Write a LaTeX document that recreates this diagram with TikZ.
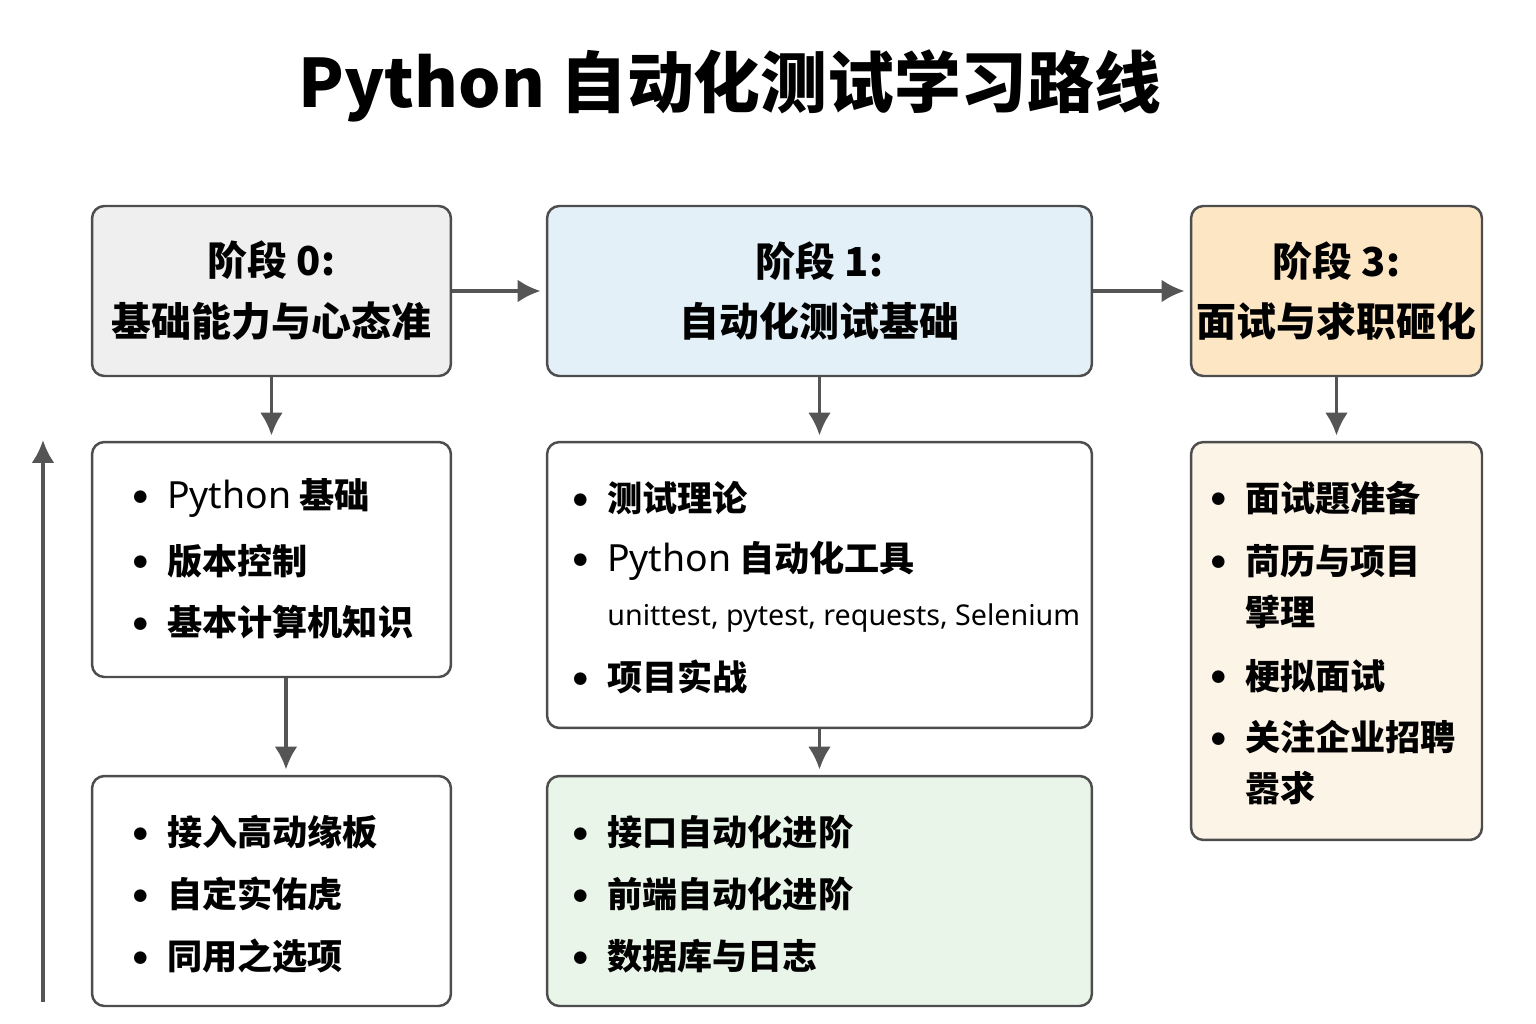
\documentclass[tikz,border=0pt]{standalone}
\usepackage{fontspec}
\setmainfont{Noto Sans CJK SC}
\newfontfamily\latinfont{Noto Sans}
\usepackage{xcolor}
\usepackage{tikz}
\usetikzlibrary{arrows.meta,positioning,calc}
\definecolor{roadmapInk}{HTML}{4D4D4D}
\definecolor{roadmapArrow}{HTML}{555555}
\definecolor{roadmapGray}{HTML}{EFEFEF}
\definecolor{roadmapBlue}{HTML}{E3F0F8}
\definecolor{roadmapAmber}{HTML}{FCE6C4}
\definecolor{roadmapCream}{HTML}{FDF4E8}
\definecolor{roadmapGreen}{HTML}{EAF5E9}
\tikzset{
  stagebox/.style={
    rectangle,
    rounded corners=7pt,
    draw=roadmapInk,
    line width=1.4pt,
    inner sep=0pt,
    align=center,
    font=\fontsize{22.7}{34.6}\selectfont\bfseries
  },
  listbox/.style={
    rectangle,
    rounded corners=7pt,
    draw=roadmapInk,
    fill=white,
    line width=1.4pt,
    inner sep=0pt
  },
  entry/.style={
    anchor=west,
    inner sep=0pt,
    font=\fontsize{20}{24}\selectfont
  },
  subentry/.style={
    anchor=west,
    inner sep=0pt,
    font=\fontsize{16.3}{18}\selectfont\latinfont
  },
  arrow/.style={
    -{Latex[length=13pt,width=13pt]},
    line width=2pt,
    draw=roadmapArrow
  }
}
\newcommand{\bul}{\makebox[19.3pt][l]{\raisebox{3.6pt}{\fontsize{8}{8}\selectfont ●}}}
\newcommand{\py}{{\latinfont\fontsize{21.3}{24}\selectfont Python}}

\begin{document}
\begin{tikzpicture}[x=0.02cm,y=-0.02cm]
  \useasboundingbox (0,0) rectangle (1536,1024);
  \node[font=\fontsize{38}{44}\selectfont\bfseries] (title) at (730,86) {Python 自动化测试学习路线};

  % stages
  \node[stagebox,fill=roadmapGray,minimum width=7.18cm,minimum height=3.4cm] (s0) at (271.5,291) {阶段 0:\\基础能力与心态准};
  \node[stagebox,fill=roadmapBlue,minimum width=10.9cm,minimum height=3.4cm] (s1) at (819.5,291) {阶段 1:\\自动化测试基础};
  \node[stagebox,fill=roadmapAmber,minimum width=5.82cm,minimum height=3.4cm] (s3) at (1336.5,291) {阶段 3:\\面试与求职砸化};

  % lists
  \node[listbox,minimum width=7.18cm,minimum height=4.7cm] (l0) at (271.5,559.5) {};
  \node[listbox,minimum width=10.9cm,minimum height=5.72cm] (l1) at (819.5,585) {};
  \node[listbox,fill=roadmapCream,minimum width=5.82cm,minimum height=7.96cm] (l3) at (1336.5,641) {};
  \node[listbox,minimum width=7.18cm,minimum height=4.6cm] (b0) at (271.5,891) {};
  \node[listbox,fill=roadmapGreen,minimum width=10.9cm,minimum height=4.6cm] (b1) at (819.5,891) {};

  \node[entry] (l0a) at (133,498) {\bul\py{} \textbf{基础}};
  \node[entry] (l0b) at (133,561) {\bul\textbf{版本控制}};
  \node[entry] (l0c) at (133,622) {\bul\textbf{基本计算机知识}};

  \node[entry] (l1a) at (573,498) {\bul\textbf{测试理论}};
  \node[entry] (l1b) at (573,561) {\bul\py{} \textbf{自动化工具}};
  \node[subentry] (l1c) at (607,618) {unittest, pytest, requests, Selenium};
  \node[entry] (l1d) at (573,677) {\bul\textbf{项目实战}};

  \node[entry] (l3a) at (1211,498) {\bul\textbf{面试題准备}};
  \node[entry] (l3b) at (1211,561) {\bul\textbf{苘历与项目}};
  \node[entry] (l3c) at (1245,612) {\textbf{擘理}};
  \node[entry] (l3d) at (1211,676) {\bul\textbf{梗拟面试}};
  \node[entry] (l3e) at (1211,737) {\bul\textbf{关注企业招聘}};
  \node[entry] (l3f) at (1245,788) {\textbf{嚣求}};

  \node[entry] (b0a) at (133,832) {\bul\textbf{接入高动缘板}};
  \node[entry] (b0b) at (133,894) {\bul\textbf{自定实佑虎}};
  \node[entry] (b0c) at (133,956) {\bul\textbf{同用之选项}};

  \node[entry] (b1a) at (573,832) {\bul\textbf{接口自动化进阶}};
  \node[entry] (b1b) at (573,894) {\bul\textbf{前端自动化进阶}};
  \node[entry] (b1c) at (573,956) {\bul\textbf{数据库与日志}};

  % connectors
  \draw[arrow,shorten >=3pt] (s0.east) -- (s1.west);
  \draw[arrow,shorten >=3pt] (s1.east) -- (s3.west);
  \draw[arrow,shorten >=3pt] (s0.south) -- (l0.north);
  \draw[arrow,shorten >=3pt] (s1.south) -- (l1.north);
  \draw[arrow,shorten >=3pt] (s3.south) -- (l3.north);
  \draw[arrow,shorten >=3pt] ($(l0.south)+(14.5,0)$) -- ($(b0.north)+(14.5,0)$);
  \draw[arrow,shorten >=3pt] (l1.south) -- (b1.north);
  \coordinate (axisLow) at (43,1002);
  \coordinate (axisHigh) at (43,440);
  \draw[arrow] (axisLow) -- (axisHigh);
\end{tikzpicture}
\end{document}
